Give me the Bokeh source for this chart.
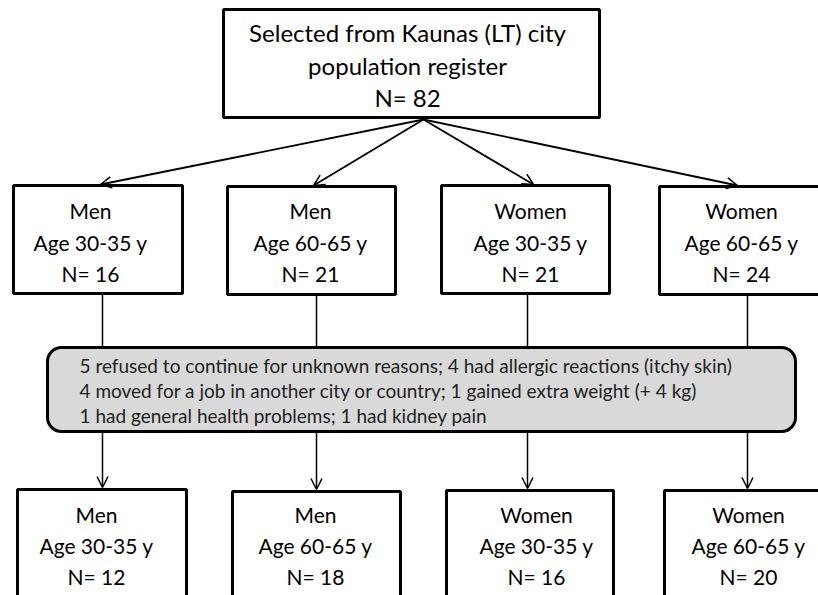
from bokeh.plotting import figure
from bokeh.models import Range1d, Arrow, OpenHead, ColumnDataSource
from bokeh.core.properties import value
from bokeh.embed import file_html
from bokeh.resources import INLINE

# ---------------- data ----------------
source_title = ["Selected from Kaunas (LT) city", "population register"]
total_selected = 82
group_sex = ["Men", "Men", "Women", "Women"]
group_age = ["Age 30-35 y", "Age 60-65 y", "Age 30-35 y", "Age 60-65 y"]
n_enrolled = [16, 21, 21, 24]
n_completed = [12, 18, 16, 20]
dropout_lines = [
    "5 refused to continue for unknown reasons; 4 had allergic reactions (itchy skin)",
    "4 moved for a job in another city or country; 1 gained extra weight (+ 4 kg)",
    "1 had general health problems; 1 had kidney pain",
]

# ---------------- layout (pixel-like coordinates, y downwards) ----------------
top_box = dict(left=223, right=599, top=9, bottom=117)
top_text_x = 407
top_text_y = [32, 65, 97]
apex = (423, 119)

row2_left = [13, 227, 441, 659]
row2_right = [182, 395, 609, 830]
row2_top = [185, 186, 185, 186]
row2_bottom = [293, 294, 293, 294]
row2_text_x = [90, 310, 530, 741]
row2_text_y = [210, 242, 273]
row2_arrow_x = [100, 313, 533, 737]

stem_x = [102, 316, 527, 747]

gray_box = dict(left=47, right=795, top=347, bottom=431)
gray_text_x = 79
gray_text_y = [365, 390, 415]

row3_left = [17, 232, 446, 664]
row3_right = [186, 400, 613, 830]
row3_top = [489, 491, 490, 490]
row3_bottom = [640, 640, 640, 640]
row3_text_x = [96, 315, 536, 748]
row3_text_y = [514, 545, 576]

FONT = value("Lato")
TOP_FS = "24px"
BOX_FS = "21px"
GRAY_FS = "19px"
TXT = "#000000"

p = figure(width=818, height=595, output_backend="svg", toolbar_location=None,
           x_range=Range1d(0, 818), y_range=Range1d(595, 0), min_border=0)
p.axis.visible = False
p.grid.visible = False
p.outline_line_color = None
p.background_fill_color = "white"
p.border_fill_color = "white"

# top box
p.quad(left=[top_box["left"]], right=[top_box["right"]], top=[top_box["top"]],
       bottom=[top_box["bottom"]], fill_color="white", line_color="black", line_width=3)
top_lines = source_title + [f"N= {total_selected}"]
p.text(x=[top_text_x] * 3, y=top_text_y, text=top_lines, text_font=FONT,
       text_font_size=TOP_FS, text_align="center", text_baseline="middle", text_color=TXT)

# arrows from top box to row 2
arr_src = ColumnDataSource(dict(x0=[apex[0]] * 4, y0=[apex[1]] * 4,
                                x1=row2_arrow_x, y1=[t - 1 for t in row2_top]))
p.add_layout(Arrow(end=OpenHead(size=11, line_width=1.5, line_color="black"),
                   x_start="x0", y_start="y0", x_end="x1", y_end="y1",
                   line_width=1.8, line_color="black", source=arr_src))

# row 2 boxes
p.quad(left=row2_left, right=row2_right, top=row2_top, bottom=row2_bottom,
       fill_color="white", line_color="black", line_width=3)
for i in range(4):
    lines = [group_sex[i], group_age[i], f"N= {n_enrolled[i]}"]
    p.text(x=[row2_text_x[i]] * 3, y=row2_text_y, text=lines, text_font=FONT,
           text_font_size=BOX_FS, text_align="center", text_baseline="middle", text_color=TXT)

# stems row 2 -> gray box
p.segment(x0=stem_x, y0=row2_bottom, x1=stem_x, y1=[gray_box["top"]] * 4,
          line_color="black", line_width=1.5)

# gray box
p.quad(left=[gray_box["left"]], right=[gray_box["right"]], top=[gray_box["top"]],
       bottom=[gray_box["bottom"]], fill_color="#d9d9d9", line_color="black",
       line_width=3, border_radius=14)
p.text(x=[gray_text_x] * 3, y=gray_text_y, text=dropout_lines, text_font=FONT,
       text_font_size=GRAY_FS, text_align="left", text_baseline="middle", text_color="#222222")

# arrows gray box -> row 3
arr2_src = ColumnDataSource(dict(x0=stem_x, y0=[gray_box["bottom"]] * 4,
                                 x1=stem_x, y1=[t - 2 for t in row3_top]))
p.add_layout(Arrow(end=OpenHead(size=11, line_width=1.5, line_color="black"),
                   x_start="x0", y_start="y0", x_end="x1", y_end="y1",
                   line_width=1.5, line_color="black", source=arr2_src))

# row 3 boxes
p.quad(left=row3_left, right=row3_right, top=row3_top, bottom=row3_bottom,
       fill_color="white", line_color="black", line_width=3)
for i in range(4):
    lines = [group_sex[i], group_age[i], f"N= {n_completed[i]}"]
    p.text(x=[row3_text_x[i]] * 3, y=row3_text_y, text=lines, text_font=FONT,
           text_font_size=BOX_FS, text_align="center", text_baseline="middle", text_color=TXT)

open("out.html", "w").write(file_html(p, INLINE))
